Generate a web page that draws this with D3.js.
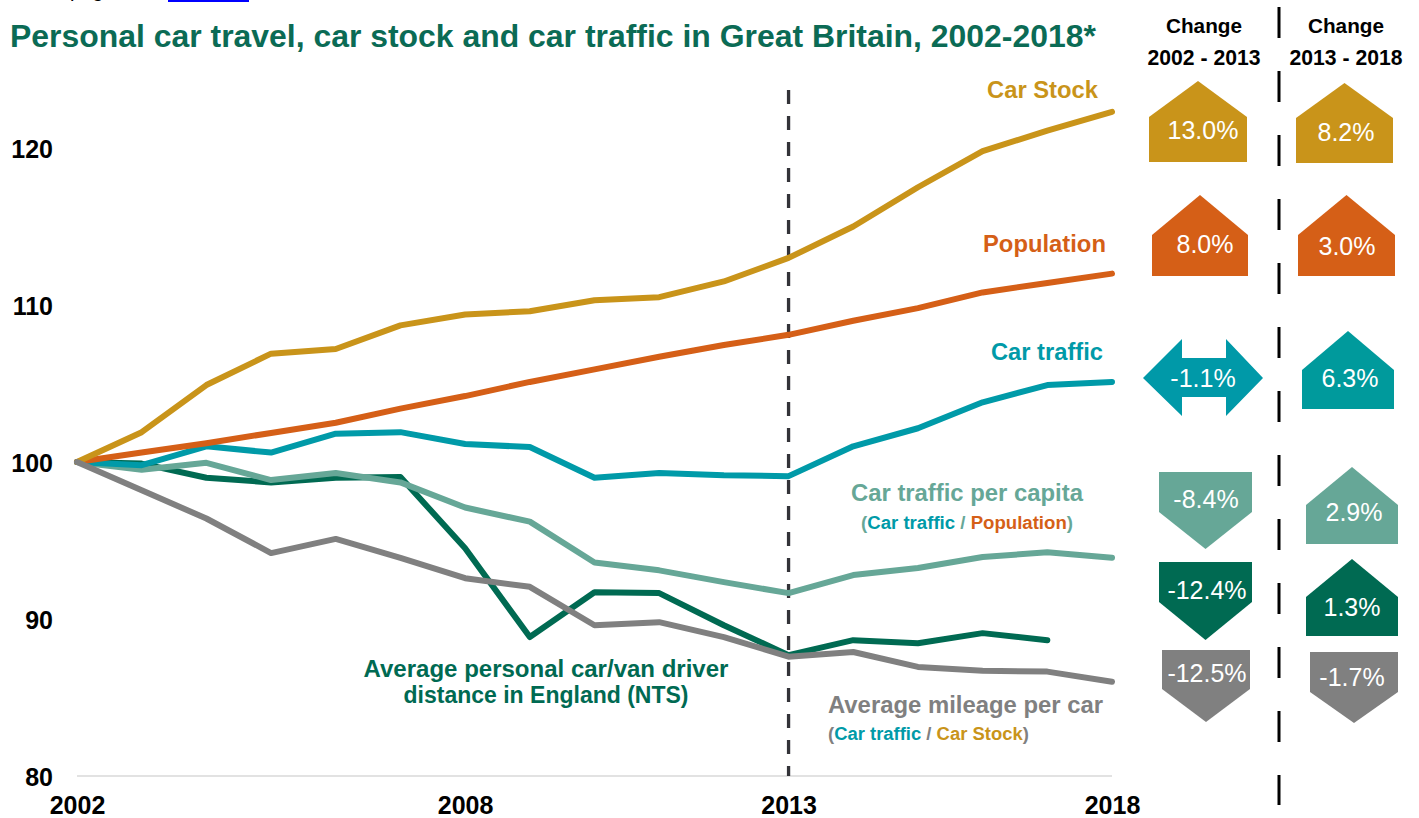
<!DOCTYPE html>
<html>
<head>
<meta charset="utf-8">
<script src="https://cdn.jsdelivr.net/npm/d3@7"></script>
<style>
html,body{margin:0;padding:0;background:#fff;}
svg{display:block;font-family:"Liberation Sans",Arial,Helvetica,sans-serif;}
</style>
</head>
<body>
<svg id="chart" width="1419" height="818"></svg>
<script>
// ---------- DATA ----------
const years = [2002,2003,2004,2005,2006,2007,2008,2009,2010,2011,2012,2013,2014,2015,2016,2017,2018];
const carStock   = [100,101.9,104.9,106.9,107.2,108.7,109.4,109.6,110.3,110.5,111.5,113.0,115.0,117.5,119.8,121.1,122.3];
const population = [100,100.6,101.2,101.85,102.5,103.4,104.2,105.1,105.9,106.7,107.45,108.1,109.0,109.8,110.8,111.4,112.0];
const carTraffic = [100,99.8,101.0,100.6,101.8,101.9,101.15,100.95,99.0,99.3,99.15,99.1,101.0,102.15,103.8,104.9,105.1];
const trafficPerCapita = [100,99.5,99.95,98.85,99.3,98.7,97.1,96.2,93.6,93.1,92.35,91.65,92.8,93.25,93.95,94.25,93.9];
const ntsDistance = [100,99.9,99.0,98.7,99.0,99.05,94.5,88.85,91.7,91.65,89.6,87.7,88.65,88.45,89.1,88.65,null];
const mileagePerCar = [100,98.2,96.4,94.2,95.1,93.9,92.6,92.05,89.6,89.8,88.85,87.6,87.9,86.95,86.7,86.65,86.0];

const yTicks = [80,90,100,110,120];
const xTicks = [2002,2008,2013,2018];
const splitYear = 2013;

const change2002_2013 = [13.0, 8.0, -1.1, -8.4, -12.4, -12.5];
const change2013_2018 = [8.2, 3.0, 6.3, 2.9, 1.3, -1.7];
const changeHeaders = [["Change","2002 - 2013"],["Change","2013 - 2018"]];

const title = "Personal car travel, car stock and car traffic in Great Britain, 2002-2018*";

// ---------- STYLE / LAYOUT ----------
const C = {
  stock:"#c9941a", pop:"#d55f17", traffic:"#009aa8", perCap:"#66a797",
  nts:"#006a52", mileage:"#808080", title:"#0b6b55"
};
const FONT = '"Liberation Sans",Arial,Helvetica,sans-serif';
const svg = d3.select("#chart");

const x = d3.scaleLinear().domain([2002,2018]).range([77,1112]);
const y = d3.scaleLinear().domain([80,125]).range([776,69.5]);

function fit(sel, w){
  const n = sel.node();
  const fs = parseFloat(sel.attr("font-size"));
  const len = n.getComputedTextLength();
  sel.attr("font-size", (fs*w/len).toFixed(2));
  return sel;
}
const pct = v => (v<0?"-":"") + Math.abs(v).toFixed(1) + "%";

// cut-off text remnant at the very top
svg.append("text").attr("x",70).attr("y",-3).attr("font-size",20).attr("font-family",FONT)
  .attr("fill","#000").text("page");
svg.append("rect").attr("x",168).attr("y",0).attr("width",81).attr("height",2).attr("fill","#0000ff");

// title
fit(svg.append("text").attr("x",10).attr("y",47).attr("font-size",27).attr("font-weight","bold")
  .attr("fill",C.title).text(title), 1086);

// baseline axis line
svg.append("line").attr("x1",x(2002)).attr("x2",x(2018)).attr("y1",y(80)).attr("y2",y(80))
  .attr("stroke","#d9d9d9").attr("stroke-width",1.5);

// y axis labels
const yAxis = d3.axisLeft(y).tickValues(yTicks).tickSize(0).tickPadding(0);
const gy = svg.append("g").attr("transform","translate(53,0)").call(yAxis);
gy.select(".domain").remove();
gy.selectAll("text").attr("font-size",25).attr("font-weight","bold").attr("font-family",FONT)
  .attr("fill","#000").attr("dy","0.36em");

// x axis labels
const xAxis = d3.axisBottom(x).tickValues(xTicks).tickFormat(d3.format("d")).tickSize(0).tickPadding(0);
const gx = svg.append("g").attr("transform","translate(0,814)").call(xAxis);
gx.select(".domain").remove();
gx.selectAll("text").attr("font-size",25).attr("font-weight","bold").attr("font-family",FONT)
  .attr("fill","#000").attr("dy",0).attr("y",0);

// dashed 2013 line
svg.append("line").attr("x1",x(splitYear)).attr("x2",x(splitYear)).attr("y1",90).attr("y2",776)
  .attr("stroke","#333338").attr("stroke-width",3.3).attr("stroke-dasharray","14,12");

// lines
const line = d3.line().defined(d=>d[1]!=null).x(d=>x(d[0])).y(d=>y(d[1]));
const series = [
  [ntsDistance,C.nts],[trafficPerCapita,C.perCap],[carTraffic,C.traffic],
  [population,C.pop],[carStock,C.stock],[mileagePerCar,C.mileage]
];
series.forEach(([vals,col])=>{
  svg.append("path").datum(years.map((yr,i)=>[yr,vals[i]])).attr("d",line)
    .attr("fill","none").attr("stroke",col).attr("stroke-width",6)
    .attr("stroke-linejoin","round").attr("stroke-linecap","round");
});

// line labels
function label(txt,col,xr,yb,w,fs,anchor){
  const t = svg.append("text").attr("x",xr).attr("y",yb).attr("font-size",fs)
    .attr("font-weight","bold").attr("fill",col).attr("text-anchor",anchor||"start").text(txt);
  return fit(t,w);
}
label("Car Stock",C.stock,987,98,111,22);
label("Population",C.pop,983,252,123,22);
label("Car traffic",C.traffic,991,360,112,22);
label("Car traffic per capita",C.perCap,851,501,232,22);
label("Average mileage per car",C.mileage,828,713,275,22);
label("Average personal car/van driver",C.nts,546,677,365,22,"middle");
label("distance in England (NTS)",C.nts,546,703,285,22,"middle");

function subLabel(parts,xs,yb,w){
  const t = svg.append("text").attr("x",xs).attr("y",yb).attr("font-size",16).attr("font-weight","bold");
  parts.forEach(([s,c])=>t.append("tspan").attr("fill",c).text(s));
  fit(t,w);
}
subLabel([["(",C.perCap],["Car traffic",C.traffic],[" / ",C.perCap],["Population",C.pop],[")",C.perCap]],861,529,212);
subLabel([["(",C.mileage],["Car traffic",C.traffic],[" / ",C.mileage],["Car Stock",C.stock],[")",C.mileage]],828,740,201);

// right panel: headers
[1204,1346].forEach((cx,ci)=>{
  fit(svg.append("text").attr("x",cx).attr("y",33).attr("text-anchor","middle").attr("font-size",18)
    .attr("font-weight","bold").attr("fill","#000").text(changeHeaders[ci][0]),76);
  fit(svg.append("text").attr("x",cx).attr("y",65).attr("text-anchor","middle").attr("font-size",18)
    .attr("font-weight","bold").attr("fill","#000").text(changeHeaders[ci][1]),113);
});

// divider
svg.append("line").attr("x1",1279).attr("x2",1279).attr("y1",7).attr("y2",805)
  .attr("stroke","#000").attr("stroke-width",3).attr("stroke-dasharray","31,33");

// arrow shapes layout
const col1Colors = [C.stock,C.pop,"#0099a8",C.perCap,C.nts,C.mileage];
const col2Colors = [C.stock,C.pop,"#009a9c",C.perCap,C.nts,C.mileage];
const col1Geo = [
  {x0:1149,x1:1247,a:81,s:117,b:162,tx:1203,ty:130},
  {x0:1152,x1:1248,a:195,s:235,b:276,tx:1205,ty:244},
  {flat:true,l:1143,r:1263,hl:1182,hr:1226,cy:378,h1:339,h2:416,s1:358,s2:397,tx:1203,ty:378},
  {x0:1159,x1:1252,a:472,s:512,b:549,tx:1206,ty:499},
  {x0:1159,x1:1252,a:562,s:602,b:640,tx:1207,ty:590},
  {x0:1162,x1:1250,a:650,s:689,b:722,tx:1207,ty:673}
];
const col2Geo = [
  {x0:1296,x1:1393,a:83,s:118,b:163,tx:1346,ty:132},
  {x0:1298,x1:1395,a:195,s:235,b:276,tx:1347,ty:246},
  {x0:1302,x1:1394,a:331,s:370,b:409,tx:1350,ty:378},
  {x0:1306,x1:1398,a:467,s:505,b:544,tx:1354,ty:512},
  {x0:1306,x1:1398,a:559,s:597,b:636,tx:1352,ty:607},
  {x0:1310,x1:1398,a:652,s:692,b:723,tx:1352,ty:677}
];

function shape(g, v){
  if(g.flat){
    return [[g.l,g.cy],[g.hl,g.h1],[g.hl,g.s1],[g.hr,g.s1],[g.hr,g.h1],[g.r,g.cy],
            [g.hr,g.h2],[g.hr,g.s2],[g.hl,g.s2],[g.hl,g.h2]];
  }
  const cx=(g.x0+g.x1)/2;
  if(v>=0){
    return [[cx,g.a],[g.x1,g.s],[g.x1,g.b],[g.x0,g.b],[g.x0,g.s]];
  }
  return [[g.x0,g.a],[g.x1,g.a],[g.x1,g.s],[cx,g.b],[g.x0,g.s]];
}
function drawCol(vals, geo, cols){
  vals.forEach((v,i)=>{
    const g = geo[i];
    svg.append("polygon").attr("points",shape(g,v).map(p=>p.join(",")).join(" ")).attr("fill",cols[i]);
    svg.append("text").attr("x",g.tx).attr("y",g.ty).attr("dy","0.36em").attr("text-anchor","middle")
      .attr("font-size",25).attr("fill","#fff").text(pct(v));
  });
}
drawCol(change2002_2013, col1Geo, col1Colors);
drawCol(change2013_2018, col2Geo, col2Colors);
</script>
</body>
</html>
